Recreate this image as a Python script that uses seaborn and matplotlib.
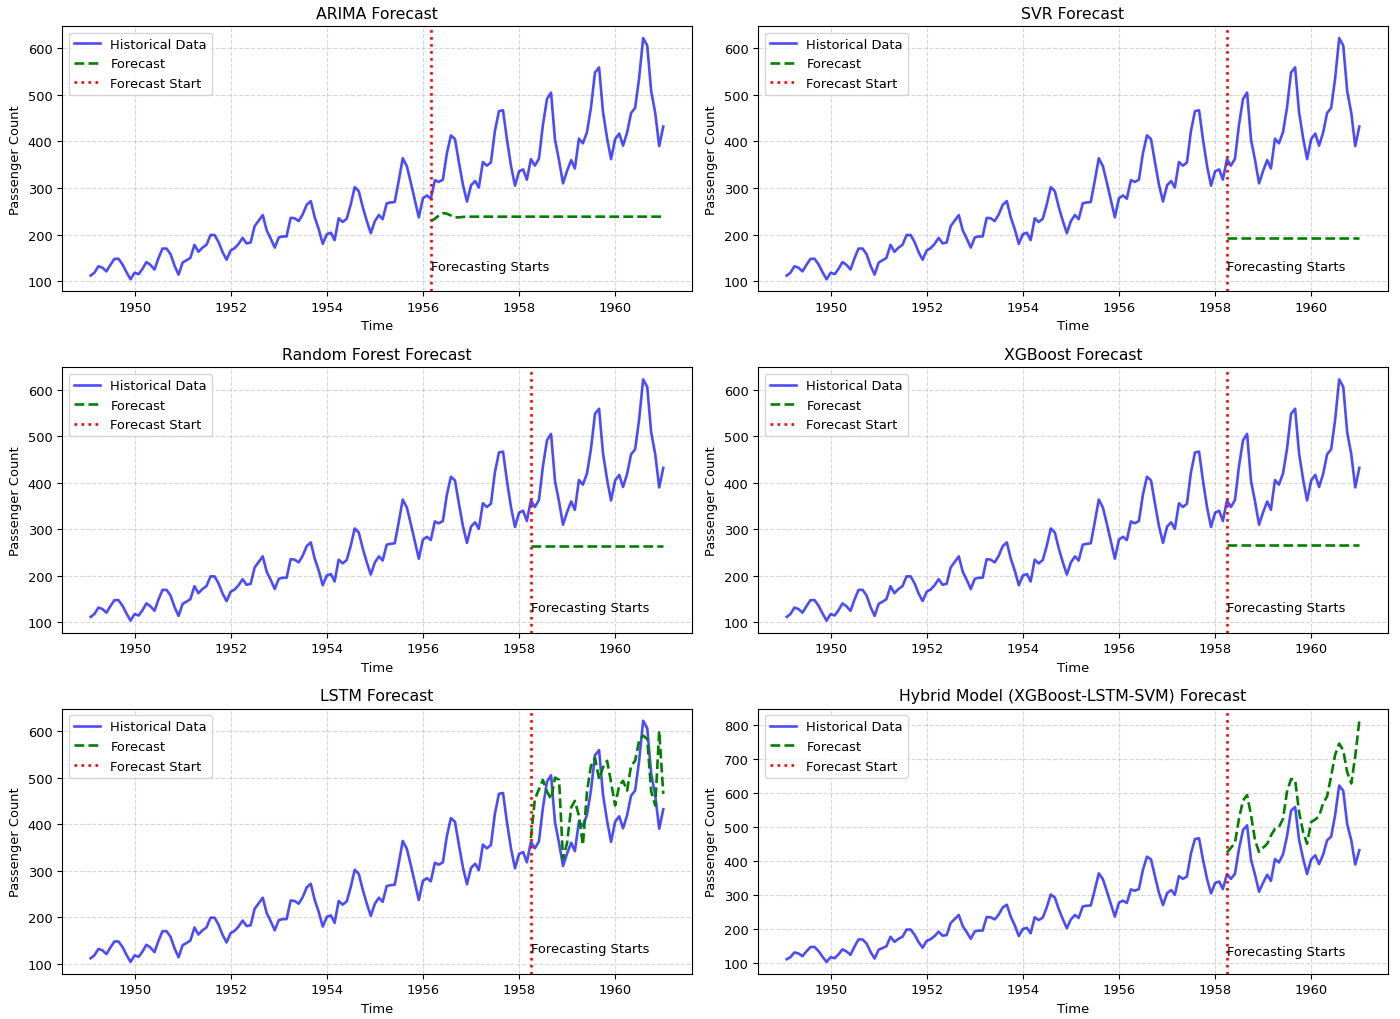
import pandas as pd
import matplotlib.pyplot as plt
import seaborn as sns

# monthly passenger counts, Jan 1949 - Dec 1960
passengers = [
    112, 118, 132, 129, 121, 135, 148, 148, 136, 119, 104, 118,
    115, 126, 141, 135, 125, 149, 170, 170, 158, 133, 114, 140,
    145, 150, 178, 163, 172, 178, 199, 199, 184, 162, 146, 166,
    171, 180, 193, 181, 183, 218, 230, 242, 209, 191, 172, 194,
    196, 196, 236, 235, 229, 243, 264, 272, 237, 211, 180, 201,
    204, 188, 235, 227, 234, 264, 302, 293, 259, 229, 203, 229,
    242, 233, 267, 269, 270, 315, 364, 347, 312, 274, 237, 278,
    284, 277, 317, 313, 318, 374, 413, 405, 355, 306, 271, 306,
    315, 301, 356, 348, 355, 422, 465, 467, 404, 347, 305, 336,
    340, 318, 362, 348, 363, 435, 491, 505, 404, 359, 310, 337,
    360, 342, 406, 396, 420, 472, 548, 559, 463, 407, 362, 405,
    417, 391, 419, 461, 472, 535, 622, 606, 508, 461, 390, 432,
]
dates = pd.date_range("1949-01-31", periods=len(passengers), freq="ME")

arima_start = "1956-02-29"
ml_start = "1958-03-31"

arima_fc = [229, 234, 241, 246, 245, 241, 237, 237, 238] + [238.5] * 50
svr_fc = [192] * 34
rf_fc = [265] * 34
xgb_fc = [267] * 34
lstm_fc = [370, 454, 475, 495, 470, 454, 500, 495, 325, 360,
           436, 450, 418, 355, 469, 525, 542, 497, 522, 536,
           490, 440, 483, 493, 472, 525, 536, 579, 590, 583,
           470, 440, 600, 465]
hybrid_fc = [425, 439, 454, 524, 578, 594, 535, 460, 427, 439,
             451, 475, 495, 500, 524, 603, 641, 639, 544, 485,
             451, 515, 522, 532, 570, 590, 650, 712, 745, 725,
             661, 628, 708, 812]

models = [
    ("ARIMA Forecast", arima_start, arima_fc),
    ("SVR Forecast", ml_start, svr_fc),
    ("Random Forest Forecast", ml_start, rf_fc),
    ("XGBoost Forecast", ml_start, xgb_fc),
    ("LSTM Forecast", ml_start, lstm_fc),
    ("Hybrid Model (XGBoost-LSTM-SVM) Forecast", ml_start, hybrid_fc),
]

plt.rcParams["font.size"] = 9.4
plt.rcParams["xtick.major.size"] = 3.3
plt.rcParams["ytick.major.size"] = 3.3

hist = pd.DataFrame({"Time": dates, "Passengers": passengers})

fig, axes = plt.subplots(3, 2, figsize=(14, 10.2), dpi=100)
for ax, (title, start, fc) in zip(axes.flat, models):
    start = pd.Timestamp(start)
    fc_df = pd.DataFrame({"Time": dates[dates >= start][:len(fc)], "Forecast": fc})
    sns.lineplot(data=hist, x="Time", y="Passengers", ax=ax, color="blue",
                 alpha=0.7, linewidth=1.9, label="Historical Data")
    sns.lineplot(data=fc_df, x="Time", y="Forecast", ax=ax, color="green",
                 linestyle="--", linewidth=1.9, label="Forecast")
    ax.axvline(start, color="red", linestyle=":", linewidth=1.9, label="Forecast Start")
    ax.text(start, min(passengers) * 1.2, "Forecasting Starts", fontsize=9.4)
    ax.set_title(title, fontsize=11.3)
    ax.set_xlabel("Time")
    ax.set_ylabel("Passenger Count")
    ax.grid(True, linestyle="--", alpha=0.5)
    ax.legend(loc="upper left")

fig.subplots_adjust(left=0.0443, right=0.9914, top=0.9735, bottom=0.0441,
                    wspace=0.105, hspace=0.2865)
plt.savefig("out.png")
